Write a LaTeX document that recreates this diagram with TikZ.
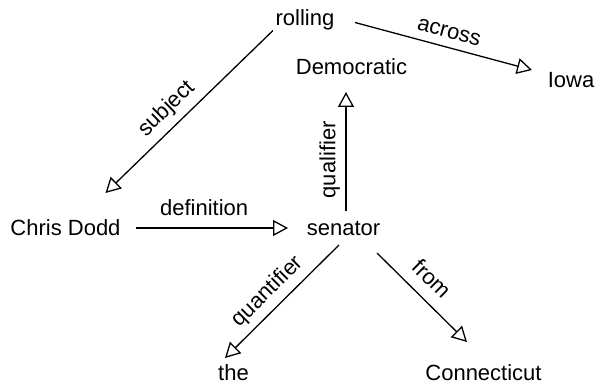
\documentclass[tikz,border=0pt]{standalone}
\usepackage{fontspec}
\setmainfont{Liberation Sans}
\usetikzlibrary{arrows.meta}
\begin{document}
\begin{tikzpicture}[x=1pt,y=1pt,
  word/.style={inner sep=0pt, anchor=base, font=\fontsize{22}{26}\selectfont},
  rel/.style={line width=1.3pt, -{Triangle[open, length=15pt, width=16pt]}},
  lab/.style={inner sep=0pt, sloped, font=\fontsize{22}{26}\selectfont}]
\useasboundingbox (0,0) rectangle (597,-385);
\node[word] (rolling) at (305,-25.5) {rolling};
\node[word] (democratic) at (351.5,-75) {Democratic};
\node[word] (iowa) at (571,-88) {Iowa};
\node[word] (chris) at (65.5,-235) {Chris Dodd};
\node[word] (senator) at (343.5,-235) {senator};
\node[word] (the) at (233.5,-380) {the};
\node[word] (conn) at (483.5,-380) {Connecticut};

\draw[rel] ([shift={(-32,-5)}]rolling.base) -- node[lab, pos=0.56, above=6.5pt] {subject} ([shift={(40,42)}]chris.base);
\draw[rel] ([shift={(50,3)}]rolling.base) -- node[lab, pos=0.51, above=8pt] {across} ([shift={(-39,18)}]iowa.base);
\draw[rel] ([shift={(70,7)}]chris.base) -- node[lab, pos=0.45, above=12pt] {definition} ([shift={(-55.5,7)}]senator.base);
\draw[rel] ([shift={(2.5,24)}]senator.base) -- node[lab, pos=0.43, above=5.5pt] {qualifier} ([shift={(-5.5,-17)}]democratic.base);
\draw[rel] ([shift={(-4.5,-10)}]senator.base) -- node[lab, pos=0.52, above=6pt] {quantifier} ([shift={(-8.5,22)}]the.base);
\draw[rel] ([shift={(33.5,-18)}]senator.base) -- node[lab, pos=0.45, above=11.5pt] {from} ([shift={(-16.5,38)}]conn.base);
\end{tikzpicture}
\end{document}
